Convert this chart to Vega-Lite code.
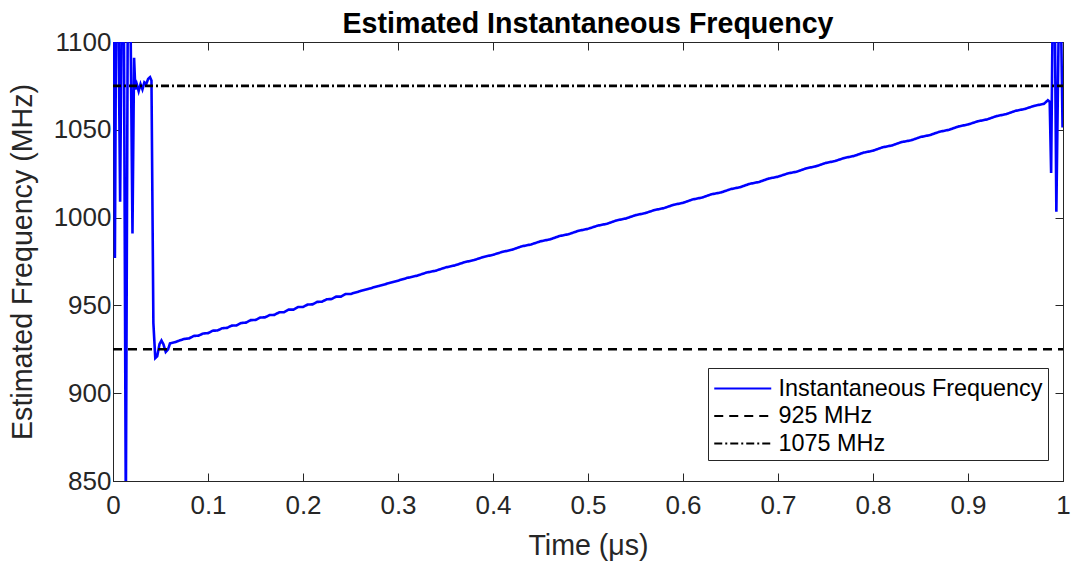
{
  "$schema": "https://vega.github.io/schema/vega-lite/v6.json",
  "width": 950,
  "height": 439,
  "autosize": "none",
  "padding": {"left": 113, "top": 42, "right": 10, "bottom": 82},
  "background": "white",
  "title": {"text": "Estimated Instantaneous Frequency", "font": "Liberation Sans", "fontSize": 28.6, "fontWeight": "bold", "color": "black", "anchor": "middle", "offset": -17},
  "config": {
    "view": {"stroke": "#262626", "strokeWidth": 1},
    "axis": {"grid": false, "domainColor": "#262626", "tickColor": "#262626", "labelColor": "#262626", "titleColor": "#262626", "labelFont": "Liberation Sans", "titleFont": "Liberation Sans", "labelFontSize": 26, "titleFontSize": 28.6, "titleFontWeight": "normal", "tickSize": -8, "domainWidth": 1, "tickWidth": 1},
    "legend": {"orient": "none", "legendX": 595, "legendY": 326, "strokeColor": "#262626", "fillColor": "white", "padding": 5, "symbolType": "M-1,0H3", "symbolSize": 812, "symbolStrokeWidth": 2, "labelFont": "Liberation Sans", "labelFontSize": 23.4, "labelColor": "black", "labelOffset": 34.5, "rowPadding": 0.5, "labelLimit": 400}
  },
  "data": {"values": [
    {"t": 0.0, "f": 1110, "s": "Instantaneous Frequency"},
    {"t": 0.0012, "f": 1110, "s": "Instantaneous Frequency"},
    {"t": 0.002, "f": 977, "s": "Instantaneous Frequency"},
    {"t": 0.0032, "f": 1110, "s": "Instantaneous Frequency"},
    {"t": 0.0058, "f": 1110, "s": "Instantaneous Frequency"},
    {"t": 0.0075, "f": 1009, "s": "Instantaneous Frequency"},
    {"t": 0.009, "f": 1110, "s": "Instantaneous Frequency"},
    {"t": 0.0115, "f": 1110, "s": "Instantaneous Frequency"},
    {"t": 0.0135, "f": 830, "s": "Instantaneous Frequency"},
    {"t": 0.0155, "f": 1110, "s": "Instantaneous Frequency"},
    {"t": 0.0185, "f": 1110, "s": "Instantaneous Frequency"},
    {"t": 0.0205, "f": 991, "s": "Instantaneous Frequency"},
    {"t": 0.0222, "f": 1091, "s": "Instantaneous Frequency"},
    {"t": 0.0235, "f": 1073, "s": "Instantaneous Frequency"},
    {"t": 0.025, "f": 1076, "s": "Instantaneous Frequency"},
    {"t": 0.027, "f": 1072, "s": "Instantaneous Frequency"},
    {"t": 0.029, "f": 1076, "s": "Instantaneous Frequency"},
    {"t": 0.031, "f": 1073, "s": "Instantaneous Frequency"},
    {"t": 0.033, "f": 1077, "s": "Instantaneous Frequency"},
    {"t": 0.035, "f": 1076, "s": "Instantaneous Frequency"},
    {"t": 0.037, "f": 1079, "s": "Instantaneous Frequency"},
    {"t": 0.039, "f": 1080, "s": "Instantaneous Frequency"},
    {"t": 0.0405, "f": 1078, "s": "Instantaneous Frequency"},
    {"t": 0.0425, "f": 940, "s": "Instantaneous Frequency"},
    {"t": 0.0445, "f": 920, "s": "Instantaneous Frequency"},
    {"t": 0.0465, "f": 921, "s": "Instantaneous Frequency"},
    {"t": 0.049, "f": 928, "s": "Instantaneous Frequency"},
    {"t": 0.051, "f": 930, "s": "Instantaneous Frequency"},
    {"t": 0.053, "f": 928, "s": "Instantaneous Frequency"},
    {"t": 0.0555, "f": 923.5, "s": "Instantaneous Frequency"},
    {"t": 0.058, "f": 925, "s": "Instantaneous Frequency"},
    {"t": 0.06, "f": 928.4, "s": "Instantaneous Frequency"},
    {"t": 0.065, "f": 929.0, "s": "Instantaneous Frequency"},
    {"t": 0.07, "f": 930.0, "s": "Instantaneous Frequency"},
    {"t": 0.075, "f": 930.9, "s": "Instantaneous Frequency"},
    {"t": 0.08, "f": 931.2, "s": "Instantaneous Frequency"},
    {"t": 0.085, "f": 932.6, "s": "Instantaneous Frequency"},
    {"t": 0.09, "f": 932.8, "s": "Instantaneous Frequency"},
    {"t": 0.095, "f": 934.0, "s": "Instantaneous Frequency"},
    {"t": 0.10, "f": 934.2, "s": "Instantaneous Frequency"},
    {"t": 0.105, "f": 935.6, "s": "Instantaneous Frequency"},
    {"t": 0.11, "f": 935.7, "s": "Instantaneous Frequency"},
    {"t": 0.115, "f": 937.0, "s": "Instantaneous Frequency"},
    {"t": 0.12, "f": 937.2, "s": "Instantaneous Frequency"},
    {"t": 0.125, "f": 938.5, "s": "Instantaneous Frequency"},
    {"t": 0.13, "f": 938.6, "s": "Instantaneous Frequency"},
    {"t": 0.135, "f": 940.0, "s": "Instantaneous Frequency"},
    {"t": 0.14, "f": 940.2, "s": "Instantaneous Frequency"},
    {"t": 0.145, "f": 941.6, "s": "Instantaneous Frequency"},
    {"t": 0.15, "f": 941.7, "s": "Instantaneous Frequency"},
    {"t": 0.155, "f": 943.1, "s": "Instantaneous Frequency"},
    {"t": 0.16, "f": 943.2, "s": "Instantaneous Frequency"},
    {"t": 0.165, "f": 944.5, "s": "Instantaneous Frequency"},
    {"t": 0.17, "f": 944.6, "s": "Instantaneous Frequency"},
    {"t": 0.175, "f": 946.1, "s": "Instantaneous Frequency"},
    {"t": 0.18, "f": 946.1, "s": "Instantaneous Frequency"},
    {"t": 0.185, "f": 947.6, "s": "Instantaneous Frequency"},
    {"t": 0.19, "f": 947.6, "s": "Instantaneous Frequency"},
    {"t": 0.195, "f": 949.1, "s": "Instantaneous Frequency"},
    {"t": 0.20, "f": 949.1, "s": "Instantaneous Frequency"},
    {"t": 0.205, "f": 950.5, "s": "Instantaneous Frequency"},
    {"t": 0.21, "f": 950.6, "s": "Instantaneous Frequency"},
    {"t": 0.215, "f": 952.0, "s": "Instantaneous Frequency"},
    {"t": 0.22, "f": 952.1, "s": "Instantaneous Frequency"},
    {"t": 0.225, "f": 953.5, "s": "Instantaneous Frequency"},
    {"t": 0.23, "f": 953.6, "s": "Instantaneous Frequency"},
    {"t": 0.235, "f": 955.0, "s": "Instantaneous Frequency"},
    {"t": 0.24, "f": 955.0, "s": "Instantaneous Frequency"},
    {"t": 0.245, "f": 956.5, "s": "Instantaneous Frequency"},
    {"t": 0.25, "f": 956.5, "s": "Instantaneous Frequency"},
    {"t": 0.26, "f": 958.1, "s": "Instantaneous Frequency"},
    {"t": 0.27, "f": 959.6, "s": "Instantaneous Frequency"},
    {"t": 0.28, "f": 961.1, "s": "Instantaneous Frequency"},
    {"t": 0.29, "f": 962.6, "s": "Instantaneous Frequency"},
    {"t": 0.30, "f": 964.1, "s": "Instantaneous Frequency"},
    {"t": 0.31, "f": 965.7, "s": "Instantaneous Frequency"},
    {"t": 0.32, "f": 966.9, "s": "Instantaneous Frequency"},
    {"t": 0.33, "f": 968.7, "s": "Instantaneous Frequency"},
    {"t": 0.34, "f": 969.8, "s": "Instantaneous Frequency"},
    {"t": 0.35, "f": 971.6, "s": "Instantaneous Frequency"},
    {"t": 0.36, "f": 972.8, "s": "Instantaneous Frequency"},
    {"t": 0.37, "f": 974.6, "s": "Instantaneous Frequency"},
    {"t": 0.38, "f": 975.8, "s": "Instantaneous Frequency"},
    {"t": 0.39, "f": 977.6, "s": "Instantaneous Frequency"},
    {"t": 0.40, "f": 978.8, "s": "Instantaneous Frequency"},
    {"t": 0.41, "f": 980.5, "s": "Instantaneous Frequency"},
    {"t": 0.42, "f": 981.7, "s": "Instantaneous Frequency"},
    {"t": 0.43, "f": 983.6, "s": "Instantaneous Frequency"},
    {"t": 0.44, "f": 984.7, "s": "Instantaneous Frequency"},
    {"t": 0.45, "f": 986.5, "s": "Instantaneous Frequency"},
    {"t": 0.46, "f": 987.6, "s": "Instantaneous Frequency"},
    {"t": 0.47, "f": 989.5, "s": "Instantaneous Frequency"},
    {"t": 0.48, "f": 990.6, "s": "Instantaneous Frequency"},
    {"t": 0.49, "f": 992.5, "s": "Instantaneous Frequency"},
    {"t": 0.50, "f": 993.6, "s": "Instantaneous Frequency"},
    {"t": 0.51, "f": 995.4, "s": "Instantaneous Frequency"},
    {"t": 0.52, "f": 996.5, "s": "Instantaneous Frequency"},
    {"t": 0.53, "f": 998.4, "s": "Instantaneous Frequency"},
    {"t": 0.54, "f": 999.5, "s": "Instantaneous Frequency"},
    {"t": 0.55, "f": 1001.4, "s": "Instantaneous Frequency"},
    {"t": 0.56, "f": 1002.5, "s": "Instantaneous Frequency"},
    {"t": 0.57, "f": 1004.3, "s": "Instantaneous Frequency"},
    {"t": 0.58, "f": 1005.4, "s": "Instantaneous Frequency"},
    {"t": 0.59, "f": 1007.3, "s": "Instantaneous Frequency"},
    {"t": 0.60, "f": 1008.4, "s": "Instantaneous Frequency"},
    {"t": 0.61, "f": 1010.3, "s": "Instantaneous Frequency"},
    {"t": 0.62, "f": 1011.4, "s": "Instantaneous Frequency"},
    {"t": 0.63, "f": 1013.3, "s": "Instantaneous Frequency"},
    {"t": 0.64, "f": 1014.3, "s": "Instantaneous Frequency"},
    {"t": 0.65, "f": 1016.2, "s": "Instantaneous Frequency"},
    {"t": 0.66, "f": 1017.3, "s": "Instantaneous Frequency"},
    {"t": 0.67, "f": 1019.2, "s": "Instantaneous Frequency"},
    {"t": 0.68, "f": 1020.3, "s": "Instantaneous Frequency"},
    {"t": 0.69, "f": 1022.2, "s": "Instantaneous Frequency"},
    {"t": 0.70, "f": 1023.3, "s": "Instantaneous Frequency"},
    {"t": 0.71, "f": 1025.1, "s": "Instantaneous Frequency"},
    {"t": 0.72, "f": 1026.2, "s": "Instantaneous Frequency"},
    {"t": 0.73, "f": 1028.1, "s": "Instantaneous Frequency"},
    {"t": 0.74, "f": 1029.2, "s": "Instantaneous Frequency"},
    {"t": 0.75, "f": 1031.1, "s": "Instantaneous Frequency"},
    {"t": 0.76, "f": 1032.2, "s": "Instantaneous Frequency"},
    {"t": 0.77, "f": 1034.0, "s": "Instantaneous Frequency"},
    {"t": 0.78, "f": 1035.1, "s": "Instantaneous Frequency"},
    {"t": 0.79, "f": 1037.0, "s": "Instantaneous Frequency"},
    {"t": 0.80, "f": 1038.1, "s": "Instantaneous Frequency"},
    {"t": 0.81, "f": 1040.0, "s": "Instantaneous Frequency"},
    {"t": 0.82, "f": 1041.1, "s": "Instantaneous Frequency"},
    {"t": 0.83, "f": 1043.0, "s": "Instantaneous Frequency"},
    {"t": 0.84, "f": 1044.0, "s": "Instantaneous Frequency"},
    {"t": 0.85, "f": 1045.9, "s": "Instantaneous Frequency"},
    {"t": 0.86, "f": 1047.0, "s": "Instantaneous Frequency"},
    {"t": 0.87, "f": 1048.9, "s": "Instantaneous Frequency"},
    {"t": 0.88, "f": 1050.0, "s": "Instantaneous Frequency"},
    {"t": 0.89, "f": 1051.9, "s": "Instantaneous Frequency"},
    {"t": 0.90, "f": 1053.0, "s": "Instantaneous Frequency"},
    {"t": 0.91, "f": 1054.8, "s": "Instantaneous Frequency"},
    {"t": 0.92, "f": 1055.9, "s": "Instantaneous Frequency"},
    {"t": 0.93, "f": 1057.8, "s": "Instantaneous Frequency"},
    {"t": 0.94, "f": 1058.9, "s": "Instantaneous Frequency"},
    {"t": 0.95, "f": 1060.8, "s": "Instantaneous Frequency"},
    {"t": 0.96, "f": 1061.9, "s": "Instantaneous Frequency"},
    {"t": 0.97, "f": 1063.7, "s": "Instantaneous Frequency"},
    {"t": 0.98, "f": 1064.8, "s": "Instantaneous Frequency"},
    {"t": 0.984, "f": 1066.8, "s": "Instantaneous Frequency"},
    {"t": 0.986, "f": 1066.0, "s": "Instantaneous Frequency"},
    {"t": 0.9875, "f": 1025.4, "s": "Instantaneous Frequency"},
    {"t": 0.989, "f": 1110, "s": "Instantaneous Frequency"},
    {"t": 0.9915, "f": 1110, "s": "Instantaneous Frequency"},
    {"t": 0.993, "f": 1003.4, "s": "Instantaneous Frequency"},
    {"t": 0.9955, "f": 1110, "s": "Instantaneous Frequency"},
    {"t": 0.998, "f": 1110, "s": "Instantaneous Frequency"},
    {"t": 0.9995, "f": 1052, "s": "Instantaneous Frequency"},
    {"t": 1.0, "f": 1052, "s": "Instantaneous Frequency"},
    {"t": 0.0, "f": 925, "s": "925 MHz"},
    {"t": 1.0, "f": 925, "s": "925 MHz"},
    {"t": 0.0, "f": 1075, "s": "1075 MHz"},
    {"t": 1.0, "f": 1075, "s": "1075 MHz"}
  ]},
  "layer": [
    {
      "mark": {"type": "line", "clip": true, "strokeWidth": 2.6},
      "encoding": {
        "x": {"field": "t", "type": "quantitative", "scale": {"domain": [0, 1], "nice": false, "zero": false}, "axis": {"values": [0, 0.1, 0.2, 0.3, 0.4, 0.5, 0.6, 0.7, 0.8, 0.9, 1], "format": "~g", "title": "Time (μs)", "labelPadding": 19, "titlePadding": 13, "labelFlush": false}},
        "y": {"field": "f", "type": "quantitative", "scale": {"domain": [850, 1100], "nice": false, "zero": false}, "axis": {"values": [850, 900, 950, 1000, 1050, 1100], "format": "d", "title": "Estimated Frequency (MHz)", "labelPadding": 10, "titlePadding": 16}},
        "color": {"field": "s", "type": "nominal", "scale": {"domain": ["Instantaneous Frequency", "925 MHz", "1075 MHz"], "range": ["#0000ff", "#000000", "#000000"]}, "legend": {"title": null}},
        "strokeDash": {"field": "s", "type": "nominal", "scale": {"domain": ["Instantaneous Frequency", "925 MHz", "1075 MHz"], "range": [[1, 0], [9, 6], [8, 3, 2, 3]]}, "legend": {"title": null}}
      }
    },
    {
      "mark": {"type": "point", "opacity": 0},
      "encoding": {
        "x": {"field": "t", "type": "quantitative", "axis": {"orient": "top", "values": [0, 0.1, 0.2, 0.3, 0.4, 0.5, 0.6, 0.7, 0.8, 0.9, 1], "labels": false, "title": null}},
        "y": {"field": "f", "type": "quantitative", "axis": {"orient": "right", "values": [850, 900, 950, 1000, 1050, 1100], "labels": false, "title": null}}
      }
    }
  ],
  "resolve": {"axis": {"x": "independent", "y": "independent"}}
}
